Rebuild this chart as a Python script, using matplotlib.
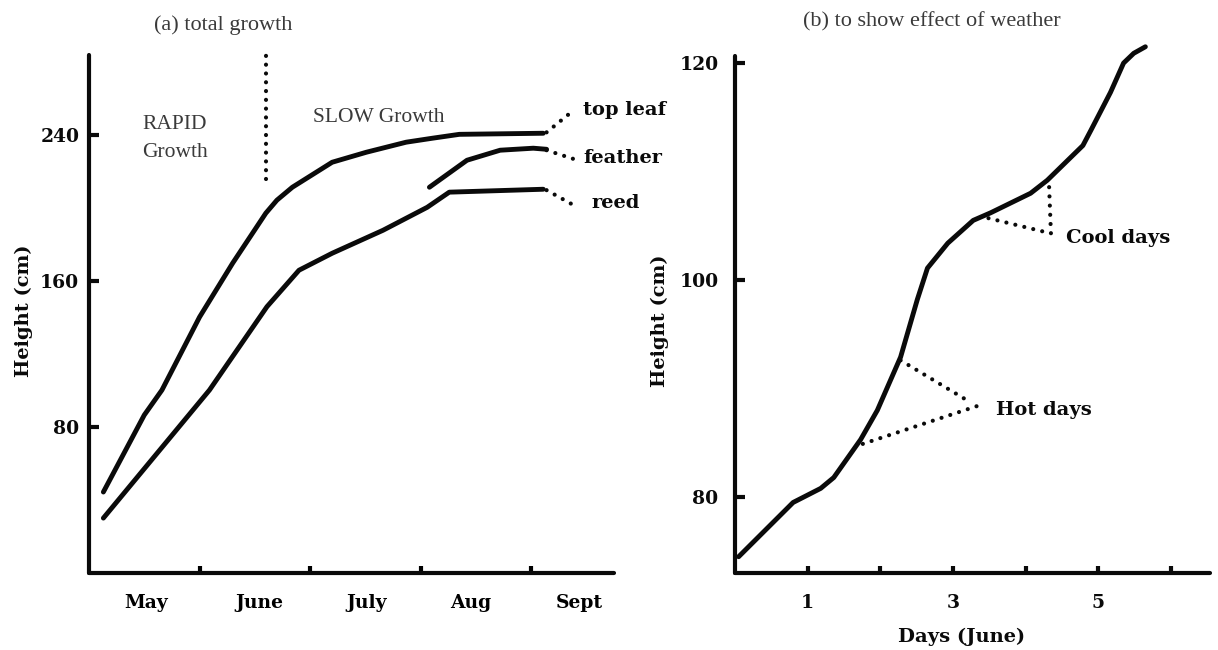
import matplotlib
matplotlib.use("Agg")
import matplotlib.pyplot as plt

# ---------------- data: panel (a) total growth ----------------
months = ["May", "June", "July", "Aug", "Sept"]
month_label_pos = [0.52, 1.54, 2.51, 3.45, 4.44]
month_ticks = [1, 2, 3, 4]
a_yticks = [80, 160, 240]

topleaf_x = [0.13, 0.50, 0.66, 1.00, 1.30, 1.60, 1.70, 1.84, 2.20, 2.51, 2.87, 3.11, 3.35, 4.11]
topleaf_y = [44.4, 86.6, 100.3, 140.3, 169.9, 197.3, 204.4, 211.5, 225.2, 230.7, 236.2, 238.4, 240.5, 241.1]

reed_x = [0.13, 1.09, 1.61, 1.90, 2.20, 2.66, 3.06, 3.26, 4.11]
reed_y = [30.1, 100.3, 146.0, 166.0, 175.3, 187.9, 200.5, 208.8, 210.4]

feather_x = [3.08, 3.42, 3.72, 4.02, 4.14]
feather_y = [211.5, 226.3, 231.8, 232.9, 232.3]

# ---------------- data: panel (b) effect of weather ----------------
days_x = [0.05, 0.80, 1.18, 1.36, 1.73, 1.96, 2.28, 2.51, 2.65, 2.93, 3.28,
          3.52, 4.07, 4.30, 4.79, 4.90, 5.17, 5.35, 5.49, 5.65]
height_b = [74.5, 79.5, 80.8, 81.8, 85.3, 88.0, 92.9, 98.2, 101.1, 103.4, 105.5,
            106.2, 108.0, 109.2, 112.4, 113.8, 117.3, 120.0, 120.9, 121.5]
b_xticks = [1, 2, 3, 4, 5, 6]
b_xticklabels = ["1", "", "3", "", "5", ""]
b_yticks = [80, 100, 120]

# ---------------- styling ----------------
plt.rcParams["font.family"] = ["DejaVu Serif", "DejaVu Sans"]
plt.rcParams["font.weight"] = "bold"

INK = "#0a0a0a"
GREY = "#3a3a3a"
LW = 3.5
SPINE_W = 3.0
DOT = dict(color=INK, lw=3.0, linestyle=(0, (0.01, 2.2)), dash_capstyle="round",
           clip_on=False)
LINE = dict(color=INK, lw=LW, solid_capstyle="round", solid_joinstyle="round",
            clip_on=False)
serif_regular = dict(family="Liberation Serif", weight="normal", color=GREY)

W, H = 1218, 650
fig = plt.figure(figsize=(W / 100, H / 100), dpi=100)
fig.patch.set_facecolor("white")

def style_axes(ax):
    for s in ("top", "right"):
        ax.spines[s].set_visible(False)
    for s in ("left", "bottom"):
        ax.spines[s].set_linewidth(SPINE_W)
        ax.spines[s].set_color(INK)
        ax.spines[s].set_capstyle("round")

# ================= panel (a) =================
axA = fig.add_axes([89 / W, 77 / H, 525 / W, 518 / H])
axA.set_xlim(0, 4.75)
axA.set_ylim(0, 284)
style_axes(axA)

axA.plot(topleaf_x, topleaf_y, **LINE)
axA.plot(reed_x, reed_y, **LINE)
axA.plot(feather_x, feather_y, **LINE)

axA.set_yticks(a_yticks, [str(v) for v in a_yticks])
axA.set_xticks(month_ticks, [""] * len(month_ticks))
axA.set_xticks(month_label_pos, months, minor=True)
axA.tick_params(axis="y", direction="in", length=7, width=3, pad=7,
                labelsize=13.5, colors=INK)
axA.tick_params(axis="x", which="major", direction="in", length=5, width=3)
axA.tick_params(axis="x", which="minor", length=0, pad=15, labelsize=13.5)

# leader lines and labels
axA.plot([4.14, 4.34], [241.6, 251.5], **DOT)
axA.plot([4.14, 4.42], [231.8, 226.3], **DOT)
axA.plot([4.14, 4.42], [209.9, 200.5], **DOT)
lab = dict(fontsize=14, fontweight="bold", color=INK, va="center", ha="left")
axA.text(4.47, 253.7, "top leaf", **lab)
axA.text(4.47, 227.4, "feather", **lab)
axA.text(4.55, 202.7, "reed", **lab)

# rapid / slow divider
axA.plot([1.60, 1.60], [216.0, 285.5], color=INK, lw=3.0,
         linestyle=(0, (0.01, 2.1)), dash_capstyle="round", clip_on=False)
axA.text(0.48, 246.0, "RAPID", fontsize=15.5, ha="left", va="center", **serif_regular)
axA.text(0.48, 230.5, "Growth", fontsize=15.5, ha="left", va="center", **serif_regular)
axA.text(2.03, 249.5, "SLOW Growth", fontsize=15.5, ha="left", va="center", **serif_regular)

fig.text(223 / W, 1 - 25 / H, "(a) total growth", fontsize=16, ha="center",
         va="center", **serif_regular)
fig.text(24 / W, 1 - 311 / H, "Height (cm)", rotation=90, fontsize=14,
         fontweight="bold", color=INK, ha="center", va="center")

# ================= panel (b) =================
axB = fig.add_axes([735 / W, 77 / H, 475 / W, 517 / H])
axB.set_xlim(0, 6.54)
axB.set_ylim(73.0, 120.65)
style_axes(axB)

axB.plot(days_x, height_b, **LINE)

axB.set_xticks(b_xticks, b_xticklabels)
axB.set_yticks(b_yticks, [str(v) for v in b_yticks])
axB.tick_params(axis="y", direction="in", length=7, width=3, pad=12,
                labelsize=13.5, colors=INK)
axB.tick_params(axis="x", direction="in", length=5, width=3, pad=15,
                labelsize=13.5, colors=INK)

# hot days
axB.plot([2.28, 3.15], [92.6, 89.1], **DOT)
axB.plot([1.76, 3.34], [84.9, 88.4], **DOT)
axB.text(3.59, 88.0, "Hot days", fontsize=14, fontweight="bold", color=INK,
         ha="left", va="center")
# cool days
axB.plot([3.49, 4.35, 4.32], [105.7, 104.3, 109.4], **DOT)
axB.text(4.56, 103.9, "Cool days", fontsize=14, fontweight="bold", color=INK,
         ha="left", va="center")

fig.text(932 / W, 1 - 22 / H, "(b) to show effect of weather", fontsize=16,
         ha="center", va="center", **serif_regular)
fig.text(660 / W, 1 - 321 / H, "Height (cm)", rotation=90, fontsize=14,
         fontweight="bold", color=INK, ha="center", va="center")
fig.text(962 / W, 1 - 637 / H, "Days (June)", fontsize=14, fontweight="bold",
         color=INK, ha="center", va="center")

fig.savefig("out.png", dpi=100, facecolor="white")
